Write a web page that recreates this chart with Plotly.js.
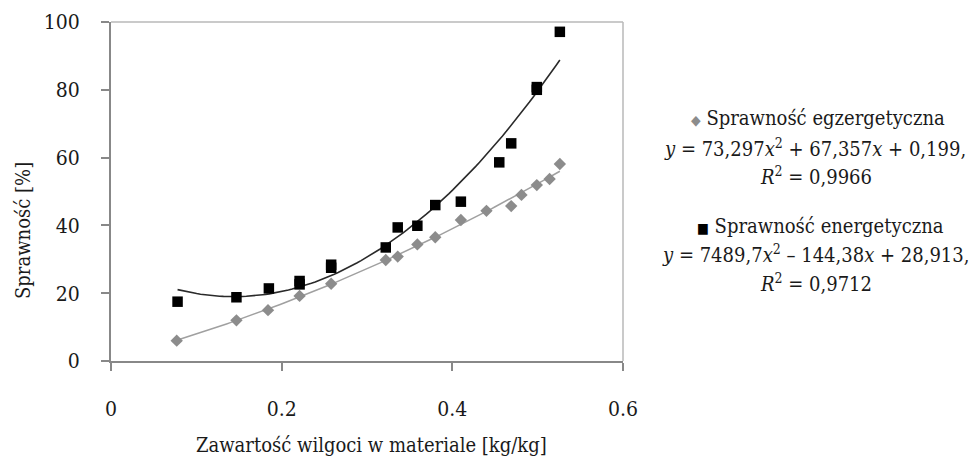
<!DOCTYPE html>
<html>
<head>
<meta charset="utf-8">
<script src="https://cdn.plot.ly/plotly-3.0.1.min.js"></script>
<style>html,body{margin:0;padding:0;background:#fff;}</style>
</head>
<body>
<div id="chart" style="width:975px;height:462px;"></div>
<script>
const exergX = [0.077, 0.147, 0.184, 0.221, 0.258, 0.322, 0.336, 0.359, 0.380, 0.410, 0.440, 0.469, 0.481, 0.499, 0.514, 0.526];
const exergY = [6.0, 12.0, 15.0, 19.2, 22.8, 29.8, 30.8, 34.4, 36.5, 41.6, 44.3, 45.7, 49.0, 51.9, 53.7, 58.1];
const energX = [0.078, 0.147, 0.185, 0.221, 0.221, 0.258, 0.258, 0.322, 0.336, 0.359, 0.380, 0.410, 0.455, 0.469, 0.499, 0.499, 0.526];
const energY = [17.5, 18.8, 21.4, 22.6, 23.6, 27.5, 28.4, 33.5, 39.4, 39.9, 46.0, 47.0, 58.6, 64.2, 80.0, 80.8, 97.1];
const xTickVals = [0, 0.2, 0.4, 0.6];
const xTickText = ['0', '0.2', '0.4', '0.6'];
const yTickVals = [0, 20, 40, 60, 80, 100];
const seriesNames = ['Sprawność egzergetyczna', 'Sprawność energetyczna'];
const eqTexts = ['<i>y</i> = 73,297<i>x</i><sup>2</sup> + 67,357<i>x</i> + 0,199,', '<i>y</i> = 7489,7<i>x</i><sup>2</sup> – 144,38<i>x</i> + 28,913,'];
const r2Texts = ['<i>R</i><sup>2</sup> = 0,9966', '<i>R</i><sup>2</sup> = 0,9712'];
const xTitle = 'Zawartość wilgoci w materiale [kg/kg]';
const yTitle = 'Sprawność [%]';

function quadFit(xs, ys) {
  let S = [0,0,0,0,0], T = [0,0,0];
  for (let i = 0; i < xs.length; i++) {
    let p = 1;
    for (let k = 0; k < 5; k++) { S[k] += p; if (k < 3) T[k] += p * ys[i]; p *= xs[i]; }
  }
  const M = [[S[0],S[1],S[2],T[0]],[S[1],S[2],S[3],T[1]],[S[2],S[3],S[4],T[2]]];
  for (let i = 0; i < 3; i++) {
    for (let j = i + 1; j < 3; j++) {
      const f = M[j][i] / M[i][i];
      for (let k = i; k < 4; k++) M[j][k] -= f * M[i][k];
    }
  }
  const c = [0,0,0];
  for (let i = 2; i >= 0; i--) {
    let s = M[i][3];
    for (let k = i + 1; k < 3; k++) s -= M[i][k] * c[k];
    c[i] = s / M[i][i];
  }
  return c;
}
function trend(xs, ys) {
  const c = quadFit(xs, ys);
  const x0 = Math.min(...xs), x1 = Math.max(...xs);
  const tx = [], ty = [];
  const n = 100;
  for (let i = 0; i <= n; i++) {
    const x = x0 + (x1 - x0) * i / n;
    tx.push(x); ty.push(c[0] + c[1] * x + c[2] * x * x);
  }
  return {tx, ty};
}
const tE = trend(exergX, exergY);
const tN = trend(energX, energY);

const FONT = 'DejaVu Serif Condensed';
const GREY = '#8c8c8c';
const TXT = '#1a1a1a';

const traces = [
  {x: tE.tx, y: tE.ty, mode: 'lines', line: {color: '#a0a0a0', width: 1.5}, hoverinfo: 'skip'},
  {x: tN.tx, y: tN.ty, mode: 'lines', line: {color: '#2a2a2a', width: 1.6}, hoverinfo: 'skip'},
  {x: exergX, y: exergY, mode: 'markers', name: seriesNames[0],
   marker: {symbol: 'diamond', size: 9.5, color: GREY, line: {width: 0}}},
  {x: energX, y: energY, mode: 'markers', name: seriesNames[1],
   marker: {symbol: 'square', size: 10.5, color: '#000', line: {width: 0}}}
];

const L = 111, R = 623, T = 22, B = 361, W = 975, H = 462;
const px = v => (v - L) / (R - L);
const py = v => (B - v) / (B - T);

const legendLines = [
  {t: '<span style="color:' + GREY + ';font-size:14px">◆</span> ' + seriesNames[0], y: 118, x: 818},
  {t: eqTexts[0], y: 148, x: 815},
  {t: r2Texts[0], y: 176, x: 816},
  {t: '<span style="color:#000;font-size:14px">■</span> ' + seriesNames[1], y: 226, x: 820},
  {t: eqTexts[1], y: 254, x: 815},
  {t: r2Texts[1], y: 283, x: 816}
];

const annotations = legendLines.map(l => ({
  xref: 'paper', yref: 'paper', x: px(l.x), y: py(l.y), xanchor: 'center', yanchor: 'middle',
  text: l.t, showarrow: false, font: {family: FONT, size: 20, color: TXT}
}));
annotations.push({xref: 'paper', yref: 'paper', x: px(371), y: py(445), xanchor: 'center', yanchor: 'middle',
  text: xTitle, showarrow: false, font: {family: FONT, size: 20, color: TXT}});
annotations.push({xref: 'paper', yref: 'paper', x: px(23), y: py(231), xanchor: 'center', yanchor: 'middle',
  text: yTitle, textangle: -90, showarrow: false, font: {family: FONT, size: 20, color: TXT}});

const layout = {
  width: W, height: H,
  margin: {l: L, r: W - R, t: T, b: H - B, pad: 0},
  paper_bgcolor: '#fff', plot_bgcolor: '#fff',
  showlegend: false,
  font: {family: FONT, color: TXT},
  xaxis: {
    range: [0, 0.6], tickvals: xTickVals, ticktext: xTickText,
    showgrid: false, zeroline: false, showline: true, linecolor: '#888', linewidth: 2,
    ticks: 'outside', ticklen: 8, tickwidth: 2, tickcolor: '#888',
    ticklabelstandoff: 20,
    tickfont: {family: FONT, size: 21, color: TXT}
  },
  yaxis: {
    range: [0, 100], tickvals: yTickVals,
    showgrid: false, zeroline: false, showline: true, linecolor: '#888', linewidth: 2,
    ticks: 'outside', ticklen: 8, tickwidth: 2, tickcolor: '#888',
    ticklabelstandoff: 17,
    tickfont: {family: FONT, size: 21, color: TXT}
  },
  shapes: [
    {type: 'line', xref: 'paper', yref: 'paper', x0: 0, x1: 1, y0: 1, y1: 1, line: {color: '#b8b8b8', width: 1.5}},
    {type: 'line', xref: 'paper', yref: 'paper', x0: 1, x1: 1, y0: 0, y1: 1, line: {color: '#b8b8b8', width: 1.5}}
  ],
  annotations: annotations
};

Plotly.newPlot('chart', traces, layout, {staticPlot: true, displayModeBar: false});
</script>
</body>
</html>
